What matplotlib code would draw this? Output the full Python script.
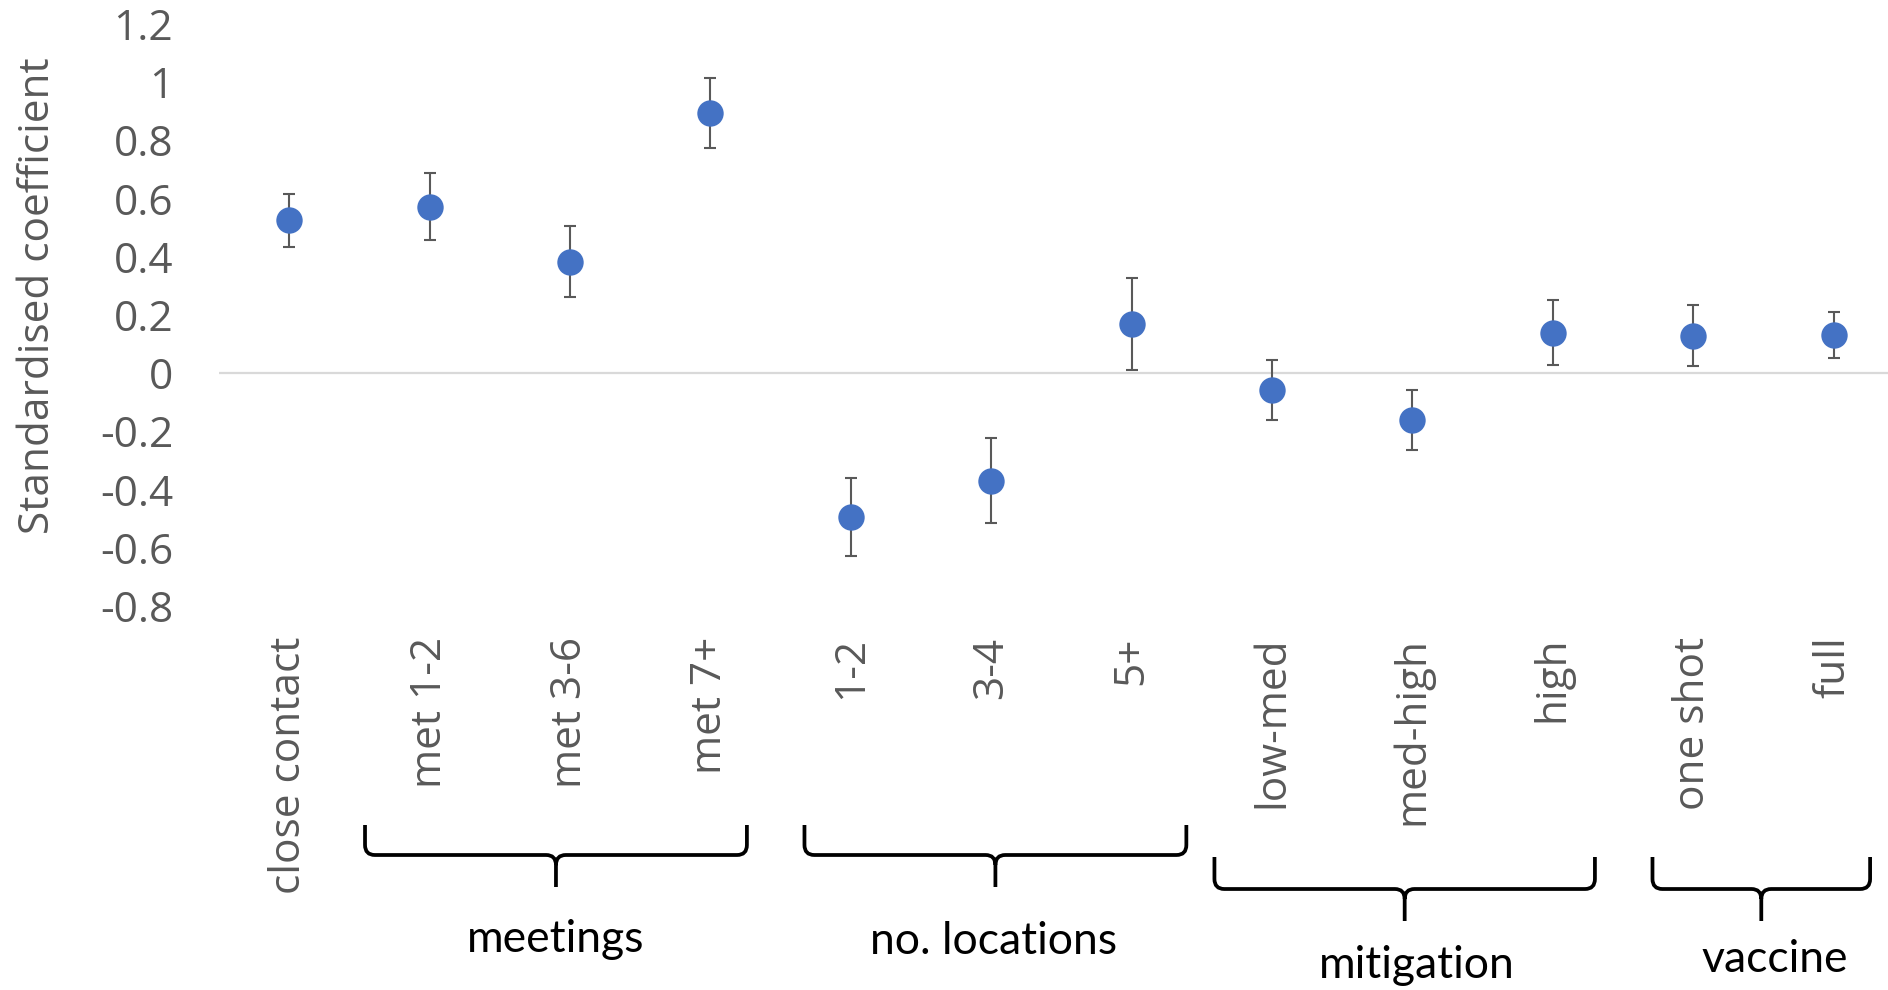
import matplotlib
matplotlib.use("Agg")
import matplotlib.pyplot as plt
from matplotlib.path import Path
from matplotlib.patches import PathPatch
import matplotlib.transforms as mtransforms

# Regression coefficients with their error margins
categories = ["close contact", "met 1-2", "met 3-6", "met 7+",
              "1-2", "3-4", "5+",
              "low-med", "med-high", "high",
              "one shot", "full"]
coefficients = [0.525, 0.572, 0.383, 0.893,
                -0.494, -0.369, 0.169,
                -0.058, -0.160, 0.139,
                0.129, 0.132]
errors = [0.091, 0.115, 0.122, 0.120,
          0.135, 0.147, 0.157,
          0.103, 0.103, 0.112,
          0.105, 0.079]

group_names = ["meetings", "no. locations", "mitigation", "vaccine"]
y_ticks = [-0.8, -0.6, -0.4, -0.2, 0, 0.2, 0.4, 0.6, 0.8, 1, 1.2]
y_tick_labels = ["-0.8", "-0.6", "-0.4", "-0.2", "0", "0.2", "0.4", "0.6", "0.8", "1", "1.2"]

W, H, DPI = 1888, 990, 100
fig = plt.figure(figsize=(W / DPI, H / DPI), dpi=DPI)
fig.patch.set_facecolor("white")

ax_left, ax_top, ax_bottom = 219, 24, 606
ax = fig.add_axes([ax_left / W, (H - ax_bottom) / H,
                   (W - ax_left) / W, (ax_bottom - ax_top) / H])

step_px = 140.4
x = list(range(len(categories)))
ax.set_xlim(-0.5, -0.5 + (W - ax_left) / step_px)
ax.set_ylim(-0.8, 1.2)

grey = "#595959"
ax.axhline(0, color="#d9d9d9", lw=1.6, zorder=1)
ax.errorbar(x, coefficients, yerr=errors, fmt="none", ecolor=grey,
            elinewidth=1.5, capsize=4.2, capthick=1.5, zorder=2)
ax.plot(x, coefficients, "o", color="#4472C4", markersize=19,
        markeredgewidth=0, zorder=3)

for side in ax.spines.values():
    side.set_visible(False)

tick_font = dict(family="Open Sans", size=30.5, color=grey)
ax.set_yticks(y_ticks)
ax.set_yticklabels(y_tick_labels, **tick_font)
ax.set_xticks(x)
ax.set_xticklabels(categories, rotation=90, **tick_font)
ax.tick_params(axis="y", length=0, pad=33)
ax.tick_params(axis="x", length=0, pad=22)

fig.text(38 / W, (H - 296) / H, "Standardised coefficient", rotation=90,
         ha="center", va="center", **tick_font)

# Curly braces under each group of categories
px_from_top = mtransforms.Affine2D().scale(1 / DPI, -1 / DPI).translate(0, H / DPI) + fig.dpi_scale_trans
brace_tf = mtransforms.blended_transform_factory(ax.transData, px_from_top)

brace_layout = [
    # (x start, x end, arm top px, bar px, tip px, label px)
    (0.54, 3.26, 825, 855, 887, 940),
    (3.67, 6.39, 825, 855, 887, 942),
    (6.59, 9.30, 857, 889, 921, 966),
    (9.71, 11.26, 857, 889, 921, 960),
]


def draw_brace(x0, x1, yt, yh, yp):
    xc = (x0 + x1) / 2
    rx, ry = 0.07, 10
    verts = [
        (x0, yt), (x0, yh - ry), (x0, yh), (x0 + rx, yh),
        (xc - rx, yh), (xc, yh), (xc, yh + ry), (xc, yp),
        (x1, yt), (x1, yh - ry), (x1, yh), (x1 - rx, yh),
        (xc + rx, yh), (xc, yh), (xc, yh + ry),
    ]
    codes = [
        Path.MOVETO, Path.LINETO, Path.CURVE3, Path.CURVE3,
        Path.LINETO, Path.CURVE3, Path.CURVE3, Path.LINETO,
        Path.MOVETO, Path.LINETO, Path.CURVE3, Path.CURVE3,
        Path.LINETO, Path.CURVE3, Path.CURVE3,
    ]
    patch = PathPatch(Path(verts, codes), transform=brace_tf, fill=False,
                      edgecolor="black", lw=2.7, clip_on=False,
                      capstyle="butt", joinstyle="round")
    fig.add_artist(patch)


label_centres = [1.90, 5.02, 8.03, 10.58]
for name, (x0, x1, yt, yh, yp, yl), xc_label in zip(group_names, brace_layout, label_centres):
    draw_brace(x0, x1, yt, yh, yp)
    fig.text(xc_label, yl, name, transform=brace_tf, family="Lato", size=32,
             color="black", ha="center", va="center")

fig.savefig("out.png", dpi=DPI, facecolor="white")
